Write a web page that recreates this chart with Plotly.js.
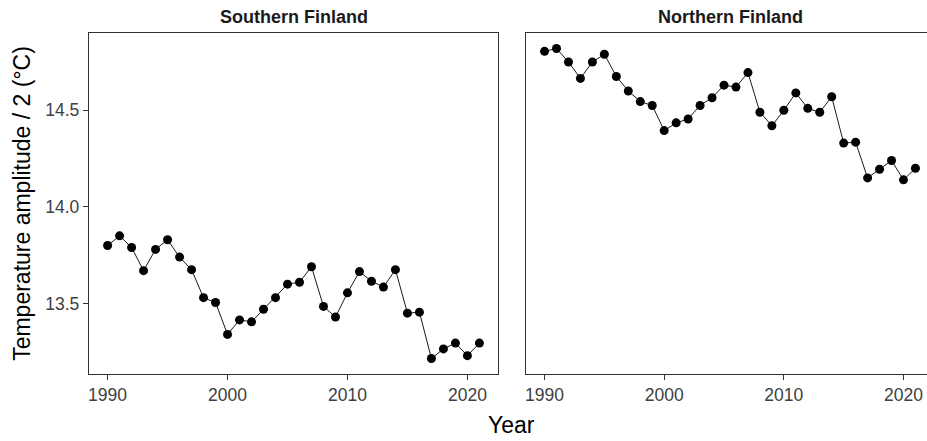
<!DOCTYPE html>
<html>
<head>
<meta charset="utf-8">
<script src="https://cdn.plot.ly/plotly-3.0.1.min.js"></script>
<style>
html, body { margin: 0; padding: 0; overflow: hidden; background: #fff; }
#chart { width: 936px; height: 441px; }
</style>
</head>
<body>
<div id="chart"></div>
<script>
const years = [1990,1991,1992,1993,1994,1995,1996,1997,1998,1999,2000,2001,2002,2003,2004,2005,2006,2007,2008,2009,2010,2011,2012,2013,2014,2015,2016,2017,2018,2019,2020,2021];
const southern = [13.80,13.85,13.79,13.67,13.78,13.83,13.74,13.675,13.53,13.505,13.34,13.415,13.405,13.47,13.53,13.60,13.61,13.69,13.485,13.43,13.555,13.665,13.615,13.585,13.675,13.45,13.455,13.215,13.265,13.295,13.23,13.295];
const northern = [14.805,14.82,14.75,14.665,14.75,14.79,14.675,14.60,14.545,14.525,14.395,14.435,14.455,14.525,14.565,14.63,14.62,14.695,14.49,14.42,14.50,14.59,14.51,14.49,14.57,14.33,14.335,14.15,14.195,14.24,14.14,14.20];
const panelTitles = ["Southern Finland", "Northern Finland"];
const xTicks = [1990, 2000, 2010, 2020];
const yTicks = [13.5, 14.0, 14.5];

const lineColor = '#000000';
function series(y, xa, ya) {
  return {
    x: years, y: y, xaxis: xa, yaxis: ya,
    type: 'scatter', mode: 'lines+markers',
    line: {color: lineColor, width: 0.9},
    marker: {color: '#000', size: 9},
    hoverinfo: 'x+y', showlegend: false
  };
}
const traces = [series(southern, 'x', 'y'), series(northern, 'x2', 'y2')];

const W = 936, L = 89, R = 2;
const plotW = W - L - R;
const panelW = 409, gap = 28;
const d1 = [0, panelW / plotW];
const d2 = [(panelW + gap) / plotW, 1];

const tickFont = {family: 'Liberation Sans, Arial, sans-serif', size: 17.5, color: '#404040'};
const titleFont = {family: 'Liberation Sans, Arial, sans-serif', size: 23, color: '#000'};
const stripFont = {family: 'Liberation Sans, Arial, sans-serif', size: 18, color: '#1a1a1a'};
const xr = [1988.45, 2022.55];
const yr = [13.135, 14.9];

function xaxis(domain, anchor) {
  return {
    domain: domain, anchor: anchor, range: xr,
    tickmode: 'array', tickvals: xTicks, ticktext: xTicks.map(String),
    ticks: 'outside', ticklen: 5, tickwidth: 1, tickcolor: '#333',
    showline: true, mirror: true, linecolor: '#333', linewidth: 1.2,
    showgrid: false, zeroline: false, tickfont: tickFont
  };
}
const layout = {
  width: W, height: 441,
  margin: {l: L, r: R, t: 33, b: 67},
  paper_bgcolor: '#fff', plot_bgcolor: '#fff',
  xaxis: xaxis(d1, 'y'),
  xaxis2: xaxis(d2, 'y2'),
  yaxis: {
    range: yr, tickmode: 'array', tickvals: yTicks, ticktext: yTicks.map(v => v.toFixed(1)),
    ticks: 'outside', ticklen: 5, tickwidth: 1, tickcolor: '#333',
    showline: true, mirror: true, linecolor: '#333', linewidth: 1.2,
    showgrid: false, zeroline: false, tickfont: tickFont,
    title: {text: 'Temperature amplitude / 2 (°C)', font: titleFont, standoff: 8}
  },
  yaxis2: {
    anchor: 'x2', matches: 'y', range: yr,
    showticklabels: false, ticks: '',
    showline: true, mirror: true, linecolor: '#333', linewidth: 1.2,
    showgrid: false, zeroline: false
  },
  annotations: [
    {text: '<b>' + panelTitles[0] + '</b>', xref: 'x domain', yref: 'paper', x: 0.5, y: 1, yshift: 16,
     showarrow: false, xanchor: 'center', yanchor: 'middle', font: stripFont},
    {text: '<b>' + panelTitles[1] + '</b>', xref: 'x2 domain', yref: 'paper', x: 0.5, y: 1, yshift: 16,
     showarrow: false, xanchor: 'center', yanchor: 'middle', font: stripFont},
    {text: 'Year', xref: 'paper', yref: 'paper', x: (511 - L) / plotW, y: 0, yshift: -51,
     showarrow: false, xanchor: 'center', yanchor: 'middle', font: titleFont}
  ]
};
Plotly.newPlot('chart', traces, layout, {displayModeBar: false, staticPlot: true});
</script>
</body>
</html>
